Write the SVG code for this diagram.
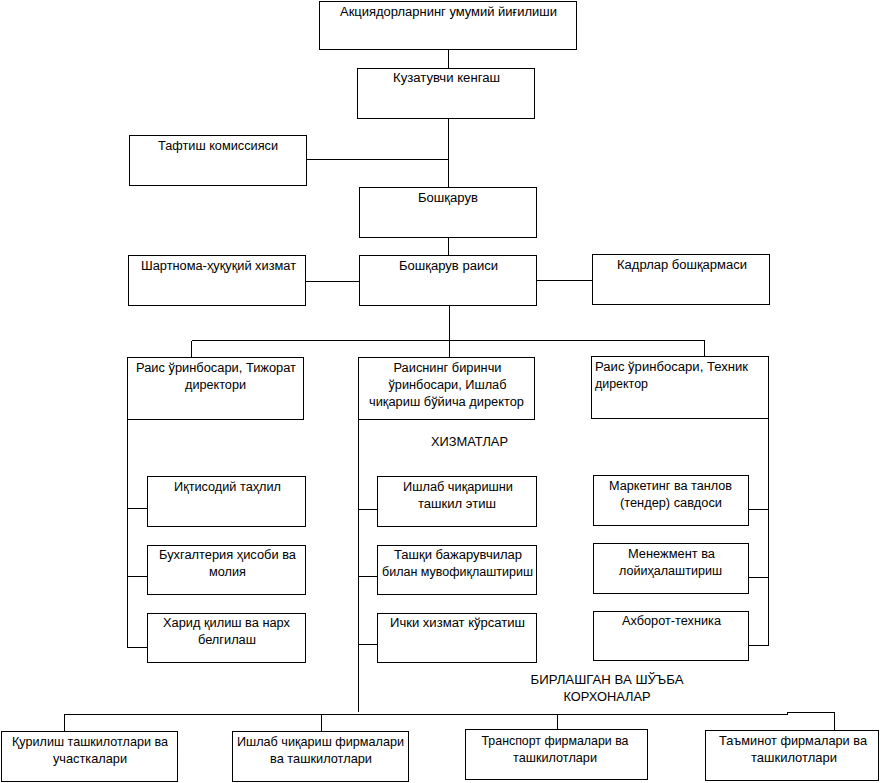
<svg xmlns="http://www.w3.org/2000/svg" width="884" height="783" viewBox="0 0 884 783">
<style>
rect{fill:#fff;stroke:#000;stroke-width:1;shape-rendering:crispEdges}
.c line,.c path{stroke:#000;stroke-width:1;fill:none;shape-rendering:crispEdges}
text{font-family:"Liberation Sans",Arial,sans-serif;font-size:12px;fill:#000;text-anchor:middle}
.l{text-anchor:start}
.n{font-size:13px}
</style>
<rect x="0" y="0" width="884" height="783" style="stroke:none"/>
<g class="c" id="connectors">
<line x1="448.5" y1="49.5" x2="448.5" y2="68.5"/>
<line x1="448.5" y1="118.5" x2="448.5" y2="187.5"/>
<line x1="306.5" y1="159.5" x2="448.5" y2="159.5"/>
<line x1="448.5" y1="237.5" x2="448.5" y2="255.5"/>
<line x1="305.5" y1="281.5" x2="359.5" y2="281.5"/>
<line x1="536.5" y1="280.5" x2="592.5" y2="280.5"/>
<line x1="449.5" y1="305.5" x2="449.5" y2="357.5"/>
<line x1="191.5" y1="340.5" x2="704.5" y2="340.5"/>
<line x1="191.5" y1="340.5" x2="191.5" y2="357.5"/>
<line x1="704.5" y1="340.5" x2="704.5" y2="356.5"/>
<line x1="127.5" y1="419.5" x2="127.5" y2="647.5"/>
<line x1="127.5" y1="508.5" x2="147.5" y2="508.5"/>
<line x1="127.5" y1="576.5" x2="147.5" y2="576.5"/>
<line x1="127.5" y1="647.5" x2="147.5" y2="647.5"/>
<line x1="358.5" y1="408" x2="358.5" y2="712"/>
<line x1="358.5" y1="408" x2="358.5" y2="420" style="stroke-width:2"/>
<line x1="358.5" y1="509.5" x2="377.5" y2="509.5"/>
<line x1="358.5" y1="576.5" x2="377.5" y2="576.5"/>
<line x1="358.5" y1="644.5" x2="377.5" y2="644.5"/>
<line x1="768.5" y1="418.5" x2="768.5" y2="645.5"/>
<line x1="748.5" y1="509.5" x2="768.5" y2="509.5"/>
<line x1="748.5" y1="577.5" x2="768.5" y2="577.5"/>
<line x1="748.5" y1="645.5" x2="768.5" y2="645.5"/>
<path d="M64.5 731.5V714.5H787.5V712.5H834.5V730.5"/>
<line x1="321.5" y1="714.5" x2="321.5" y2="731.5"/>
<line x1="557.5" y1="714.5" x2="557.5" y2="729.5"/>
</g>
<g id="n-gm"><rect x="319.5" y="1.5" width="257" height="48"/><text x="448.5" y="16" textLength="217" lengthAdjust="spacingAndGlyphs">Акциядорларнинг умумий йиғилиши</text></g>
<g id="n-kk"><rect x="357.5" y="68.5" width="177" height="50"/><text x="446.5" y="82" textLength="107" lengthAdjust="spacingAndGlyphs">Кузатувчи кенгаш</text></g>
<g id="n-tk"><rect x="129.5" y="135.5" width="177" height="50"/><text x="218" y="150" textLength="120" lengthAdjust="spacingAndGlyphs">Тафтиш комиссияси</text></g>
<g id="n-b"><rect x="359.5" y="187.5" width="177" height="50"/><text x="448" y="202" textLength="60" lengthAdjust="spacingAndGlyphs">Бошқарув</text></g>
<g id="n-sh"><rect x="128.5" y="255.5" width="177" height="50"/><text x="218.5" y="270" textLength="155" lengthAdjust="spacingAndGlyphs">Шартнома-ҳуқуқий хизмат</text></g>
<g id="n-br"><rect x="359.5" y="255.5" width="177" height="50"/><text x="448.5" y="270" textLength="99" lengthAdjust="spacingAndGlyphs">Бошқарув раиси</text></g>
<g id="n-kb"><rect x="592.5" y="254.5" width="177" height="50"/><text x="682" y="269" textLength="130" lengthAdjust="spacingAndGlyphs">Кадрлар бошқармаси</text></g>
<g id="n-rt"><rect x="127.5" y="357.5" width="176" height="62"/><text x="216" y="372" textLength="160" lengthAdjust="spacingAndGlyphs">Раис ўринбосари, Тижорат</text><text x="215.5" y="389" textLength="61" lengthAdjust="spacingAndGlyphs">директори</text></g>
<g id="n-rb"><rect x="358.5" y="357.5" width="176" height="62"/><text x="447.5" y="372" textLength="108" lengthAdjust="spacingAndGlyphs">Раиснинг биринчи</text><text x="447.5" y="389" textLength="118" lengthAdjust="spacingAndGlyphs">ўринбосари, Ишлаб</text><text x="446.5" y="406" textLength="155" lengthAdjust="spacingAndGlyphs">чиқариш бўйича директор</text></g>
<g id="n-rtx"><rect x="591.5" y="356.5" width="177" height="62"/><text class="l" x="595" y="371" textLength="153" lengthAdjust="spacingAndGlyphs">Раис ўринбосари, Техник</text><text class="l" x="595" y="388" textLength="53" lengthAdjust="spacingAndGlyphs">директор</text></g>
<g id="lbl-xizmat"><text x="469.5" y="446" textLength="77" lengthAdjust="spacingAndGlyphs">ХИЗМАТЛАР</text></g>
<g id="n-it"><rect x="147.5" y="476.5" width="158" height="50"/><text x="227.5" y="491" textLength="107" lengthAdjust="spacingAndGlyphs">Иқтисодий таҳлил</text></g>
<g id="n-bh"><rect x="147.5" y="545.5" width="158" height="49"/><text x="227.5" y="559" textLength="137" lengthAdjust="spacingAndGlyphs">Бухгалтерия ҳисоби ва</text><text x="227.5" y="576" textLength="37" lengthAdjust="spacingAndGlyphs">молия</text></g>
<g id="n-hq"><rect x="147.5" y="613.5" width="158" height="49"/><text x="226.5" y="627" textLength="127" lengthAdjust="spacingAndGlyphs">Харид қилиш ва нарх</text><text x="227" y="644" textLength="58" lengthAdjust="spacingAndGlyphs">белгилаш</text></g>
<g id="n-ich"><rect x="377.5" y="476.5" width="159" height="50"/><text x="458" y="491" textLength="110" lengthAdjust="spacingAndGlyphs">Ишлаб чиқаришни</text><text x="457" y="508" textLength="78" lengthAdjust="spacingAndGlyphs">ташкил этиш</text></g>
<g id="n-tb"><rect x="377.5" y="545.5" width="159" height="49"/><text x="458" y="559" textLength="128" lengthAdjust="spacingAndGlyphs">Ташқи бажарувчилар</text><text x="457.5" y="576" textLength="151" lengthAdjust="spacingAndGlyphs">билан мувофиқлаштириш</text></g>
<g id="n-ik"><rect x="377.5" y="613.5" width="159" height="49"/><text x="457.5" y="627" textLength="135" lengthAdjust="spacingAndGlyphs">Ички хизмат кўрсатиш</text></g>
<g id="n-mt"><rect x="593.5" y="475.5" width="155" height="50"/><text x="670.5" y="490" textLength="123" lengthAdjust="spacingAndGlyphs">Маркетинг ва танлов</text><text x="671" y="507" textLength="102" lengthAdjust="spacingAndGlyphs">(тендер) савдоси</text></g>
<g id="n-ml"><rect x="593.5" y="543.5" width="155" height="50"/><text x="671.5" y="558" textLength="87" lengthAdjust="spacingAndGlyphs">Менежмент ва</text><text x="670.5" y="575" textLength="103" lengthAdjust="spacingAndGlyphs">лойиҳалаштириш</text></g>
<g id="n-at"><rect x="593.5" y="611.5" width="155" height="49"/><text x="671.5" y="625" textLength="99" lengthAdjust="spacingAndGlyphs">Ахборот-техника</text></g>
<g id="lbl-birl"><text class="n" x="607" y="684" textLength="153" lengthAdjust="spacingAndGlyphs">БИРЛАШГАН ВА ШЎЪБА</text><text class="n" x="607" y="701" textLength="87" lengthAdjust="spacingAndGlyphs">КОРХОНАЛАР</text></g>
<g id="n-qt"><rect x="1.5" y="731.5" width="176" height="50"/><text class="n" x="90" y="746" textLength="156" lengthAdjust="spacingAndGlyphs">Қурилиш ташкилотлари ва</text><text class="n" x="90" y="763" textLength="74" lengthAdjust="spacingAndGlyphs">участкалари</text></g>
<g id="n-if"><rect x="232.5" y="731.5" width="176" height="50"/><text class="n" x="320.5" y="746" textLength="167" lengthAdjust="spacingAndGlyphs">Ишлаб чиқариш фирмалари</text><text class="n" x="321" y="763" textLength="102" lengthAdjust="spacingAndGlyphs">ва ташкилотлари</text></g>
<g id="n-tf"><rect x="465.5" y="729.5" width="182" height="50"/><text class="n" x="555" y="745" textLength="147" lengthAdjust="spacingAndGlyphs">Транспорт фирмалари ва</text><text class="n" x="555" y="762" textLength="84" lengthAdjust="spacingAndGlyphs">ташкилотлари</text></g>
<g id="n-taf"><rect x="705.5" y="730.5" width="173" height="50"/><text class="n" x="793" y="745" textLength="148" lengthAdjust="spacingAndGlyphs">Таъминот фирмалари ва</text><text class="n" x="794" y="762" textLength="86" lengthAdjust="spacingAndGlyphs">ташкилотлари</text></g>
</svg>
